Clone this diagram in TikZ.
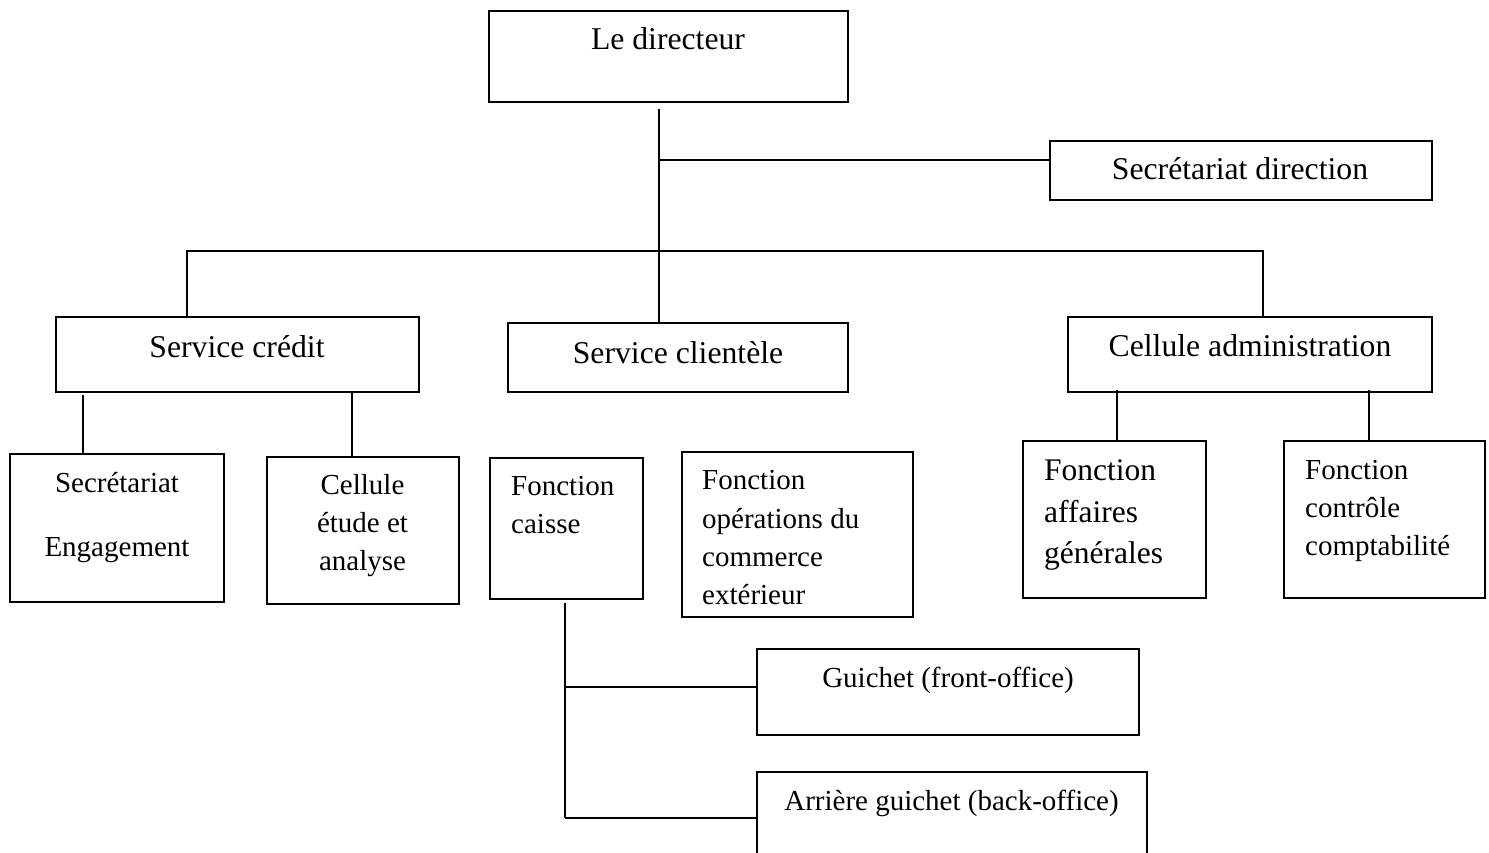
\documentclass[tikz,border=0pt]{standalone}
\usepackage{fontspec}
\setmainfont{Liberation Serif}
\begin{document}
\begin{tikzpicture}[x=1pt,y=-1pt,
  box/.style={draw, line width=1.6pt, inner sep=0pt},
  conn/.style={line width=1.6pt},
  big/.style={font=\fontsize{31.7}{38}\selectfont, inner sep=0pt},
  small/.style={font=\fontsize{29}{38}\selectfont, inner sep=0pt},
  mid/.style={font=\fontsize{31.5}{42}\selectfont, inner sep=0pt}]
\useasboundingbox[fill=white] (0,0) rectangle (1489,853);
% boxes
\node[box, minimum width=359pt, minimum height=91pt] (dir) at (668.5,56.5) {};
\node[box, minimum width=382pt, minimum height=59pt] (secdir) at (1241,170.5) {};
\node[box, minimum width=363pt, minimum height=75pt] (scredit) at (237.5,354.5) {};
\node[box, minimum width=340pt, minimum height=69pt] (sclient) at (678,357.5) {};
\node[box, minimum width=364pt, minimum height=75pt] (cadmin) at (1250,354.5) {};
\node[box, minimum width=214pt, minimum height=148pt] (seceng) at (117,528) {};
\node[box, minimum width=192pt, minimum height=147pt] (cetude) at (363,530.5) {};
\node[box, minimum width=153pt, minimum height=141pt] (fcaisse) at (566.5,528.5) {};
\node[box, minimum width=231pt, minimum height=165pt] (fop) at (797.5,534.5) {};
\node[box, minimum width=183pt, minimum height=157pt] (faff) at (1114.5,519.5) {};
\node[box, minimum width=201pt, minimum height=157pt] (fctrl) at (1384.5,519.5) {};
\node[box, minimum width=382pt, minimum height=86pt] (guichet) at (948,692) {};
\node[box, minimum width=390pt, minimum height=110pt] (arriere) at (952,827) {};
% texts
\node[big, anchor=base] (tdir) at (668,50) {Le directeur};
\node[big, anchor=base] (tsecdir) at (1240,180) {Secrétariat direction};
\node[big, anchor=base] (tscredit) at (237,357) {Service crédit};
\node[big, anchor=base] (tsclient) at (678,363) {Service clientèle};
\node[big, anchor=base] (tcadmin) at (1250,356) {Cellule administration};
\node[small, anchor=base] (tse1) at (117,492) {Secrétariat};
\node[small, anchor=base] (tse2) at (117,556) {Engagement};
\node[small, anchor=base] (tce1) at (362.5,494) {Cellule};
\node[small, anchor=base] (tce2) at (362.5,532) {étude et};
\node[small, anchor=base] (tce3) at (362.5,570) {analyse};
\node[small, anchor=base west] (tfc1) at (511,495) {Fonction};
\node[small, anchor=base west] (tfc2) at (511,533) {caisse};
\node[small, anchor=base west] (tfo1) at (702,489) {Fonction};
\node[small, anchor=base west] (tfo2) at (702,528) {opérations du};
\node[small, anchor=base west] (tfo3) at (702,566) {commerce};
\node[small, anchor=base west] (tfo4) at (702,604) {extérieur};
\node[mid, anchor=base west] (tfa1) at (1044,480) {Fonction};
\node[mid, anchor=base west] (tfa2) at (1044,522) {affaires};
\node[mid, anchor=base west] (tfa3) at (1044,563) {générales};
\node[small, anchor=base west] (tft1) at (1305,479) {Fonction};
\node[small, anchor=base west] (tft2) at (1305,517) {contrôle};
\node[small, anchor=base west] (tft3) at (1305,555) {comptabilité};
\node[small, anchor=base] (tgu) at (948,687) {Guichet (front-office)};
\node[small, anchor=base] (tar) at (951.5,810) {Arrière guichet (back-office)};
% connector points
\coordinate (top) at (659,109);
\coordinate (jsec) at (659,160);
\coordinate (busL) at (187,251);
\coordinate (busR) at (1263,251);
\coordinate (c1) at (83,395);
\coordinate (c2) at (352,392);
\coordinate (c3) at (1117,390);
\coordinate (c4) at (1369,390);
\coordinate (c5) at (565,603);
\coordinate (jgu) at (565,687);
\coordinate (jar) at (565,818);
% connectors
\draw[conn] (top) -- (top |- sclient.north);
\draw[conn] (jsec) -- (jsec -| secdir.west);
\draw[conn] (busL |- scredit.north) -- (busL) -- (busR) -- (busR |- cadmin.north);
\draw[conn] (c1) -- (c1 |- seceng.north);
\draw[conn] (c2) -- (c2 |- cetude.north);
\draw[conn] (c3) -- (c3 |- faff.north);
\draw[conn] (c4) -- (c4 |- fctrl.north);
\draw[conn] (c5) -- (jar);
\draw[conn] (jgu) -- (jgu -| guichet.west);
\draw[conn] (jar) -- (jar -| arriere.west);
\end{tikzpicture}
\end{document}
